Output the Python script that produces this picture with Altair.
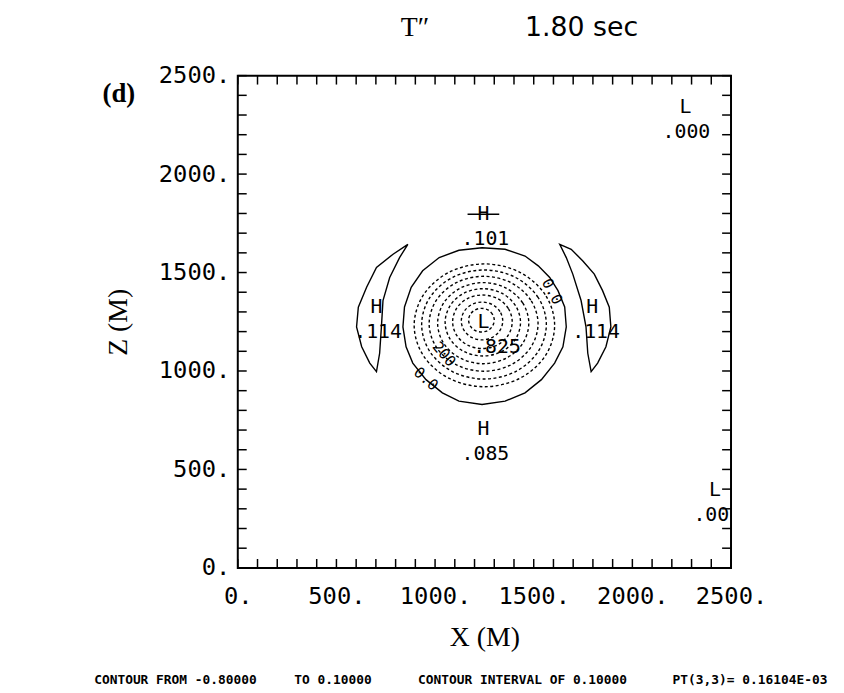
import altair as alt
import pandas as pd

# ---------------- text ----------------
TITLE_VAR = "T\u2033"
TITLE_TIME = "1.80 sec"
PANEL = "(d)"
X_TITLE = "X (M)"
Z_TITLE = "Z (M)"
FOOTER = ["CONTOUR FROM -0.80000", "TO  0.10000",
          "CONTOUR INTERVAL OF  0.10000", "PT(3,3)=  0.16104E-03"]

AXIS_VALUES = [0, 500, 1000, 1500, 2000, 2500]
MINOR_TICKS = [0, 100, 200, 300, 400, 500, 600, 700, 800, 900, 1000, 1100, 1200,
               1300, 1400, 1500, 1600, 1700, 1800, 1900, 2000, 2100, 2200, 2300,
               2400, 2500]

# ---------------- contours (metres) ----------------
# 0.0 contour (solid, around the cold core)
C00_X = [1238, 1121, 1021, 937, 879, 845, 837, 853, 887, 954, 1037, 1121, 1238,
         1355, 1456, 1539, 1606, 1648, 1665, 1657, 1623, 1581, 1523, 1456, 1355]
C00_Y = [1626, 1613, 1576, 1509, 1425, 1325, 1224, 1123, 1040, 956, 889, 847, 830,
         847, 889, 956, 1040, 1123, 1224, 1325, 1408, 1475, 1534, 1584, 1618]
# +0.1 contours (solid crescents)
LC_X = [862, 787, 703, 653, 611, 602, 628, 669, 703, 719, 728, 736, 770, 820]
LC_Y = [1643, 1593, 1526, 1425, 1324, 1224, 1123, 1040, 997, 1090, 1224, 1358, 1475, 1576]
RC_X = [1632, 1690, 1749, 1807, 1849, 1883, 1891, 1866, 1824, 1791, 1774, 1765, 1740, 1698, 1665]
RC_Y = [1643, 1618, 1559, 1492, 1408, 1324, 1224, 1123, 1040, 997, 1090, 1224, 1358, 1492, 1576]

# negative contours (dashed), -0.1 ... -0.8
N1_X = [1606, 1558, 1428, 1250, 1072, 942, 894, 942, 1072, 1250, 1428, 1558]
N1_Y = [1232, 1388, 1502, 1544, 1502, 1388, 1232, 1076, 962, 920, 962, 1076]
N2_X = [1564, 1522, 1406, 1248, 1090, 974, 932, 974, 1090, 1248, 1406, 1522]
N2_Y = [1236, 1374, 1476, 1513, 1476, 1374, 1236, 1098, 996, 959, 996, 1098]
N3_X = [1522, 1485, 1384, 1246, 1108, 1007, 970, 1007, 1108, 1246, 1384, 1485]
N3_Y = [1240, 1360, 1449, 1481, 1449, 1360, 1240, 1120, 1031, 999, 1031, 1120]
N4_X = [1475, 1444, 1360, 1244, 1128, 1044, 1013, 1044, 1128, 1244, 1360, 1444]
N4_Y = [1243, 1346, 1421, 1449, 1421, 1346, 1243, 1140, 1065, 1037, 1065, 1140]
N5_X = [1433, 1407, 1338, 1242, 1146, 1077, 1051, 1077, 1146, 1242, 1338, 1407]
N5_Y = [1247, 1333, 1395, 1418, 1395, 1333, 1247, 1161, 1099, 1076, 1099, 1161]
N6_X = [1391, 1371, 1316, 1240, 1164, 1109, 1089, 1109, 1164, 1240, 1316, 1371]
N6_Y = [1250, 1318, 1368, 1386, 1368, 1318, 1250, 1182, 1132, 1114, 1132, 1182]
N7_X = [1343, 1329, 1291, 1238, 1185, 1147, 1133, 1147, 1185, 1238, 1291, 1329]
N7_Y = [1254, 1302, 1337, 1350, 1337, 1302, 1254, 1206, 1171, 1158, 1171, 1206]
N8_X = [1300, 1291, 1268, 1235, 1202, 1179, 1170, 1179, 1202, 1235, 1268, 1291]
N8_Y = [1258, 1288, 1310, 1318, 1310, 1288, 1258, 1228, 1206, 1198, 1206, 1228]

# extrema labels
PEAK_TEXT = ["L", ".000", "H", ".101", "H", ".114", "H", ".114",
             "L", ".825", "H", ".085", "L", ".00"]
PEAK_X = [2269, 2274, 1245, 1255, 703, 711, 1797, 1816, 1245, 1314, 1245, 1255, 2418, 2400]
PEAK_Y = [2339, 2213, 1796, 1670, 1323, 1199, 1323, 1199, 1249, 1123, 704, 578, 394, 268]
# the crossed "H" marker at the top maximum
CROSS_X = [1245]
CROSS_Y = [1796]

# contour labels
CLAB_TEXT = ["0.0", "0.0", "200"]
CLAB_X = [1594, 954, 1046]
CLAB_Y = [1404, 960, 1086]

# ---------------- build ----------------
W, H = 498, 497
MONO = "DejaVu Sans Mono"
SERIF = "Liberation Serif"


def rows(name, xs_, ys_):
    return [{"c": name, "i": i, "x": a, "y": b} for i, (a, b) in enumerate(zip(xs_, ys_))]


solid_df = pd.DataFrame(rows("c00", C00_X, C00_Y) + rows("lc", LC_X, LC_Y) + rows("rc", RC_X, RC_Y))
dash_df = pd.DataFrame(
    rows("n1", N1_X, N1_Y) + rows("n2", N2_X, N2_Y) + rows("n3", N3_X, N3_Y) + rows("n4", N4_X, N4_Y)
    + rows("n5", N5_X, N5_Y) + rows("n6", N6_X, N6_Y) + rows("n7", N7_X, N7_Y) + rows("n8", N8_X, N8_Y))

xs = alt.Scale(domain=[0, 2500], nice=False, zero=False)
ys = alt.Scale(domain=[0, 2500], nice=False, zero=False)

X_AX = alt.Axis(values=AXIS_VALUES, labelExpr="datum.value + '.'", ticks=False, domain=False,
                grid=False, labelFont=MONO, labelFontSize=24, labelPadding=17, labelFlush=False,
                labelOverlap=False, labelColor="black", title=X_TITLE, titleFont=SERIF,
                titleFontSize=28, titleFontWeight="normal", titleColor="black", titleY=70,
                titleBaseline="middle")
Y_AX = alt.Axis(values=AXIS_VALUES, labelExpr="datum.value + '.'", ticks=False, domain=False,
                grid=False, labelFont=MONO, labelFontSize=24, labelPadding=8, labelFlush=False,
                labelOverlap=False, labelColor="black", title=Z_TITLE, titleFont=SERIF,
                titleFontSize=28, titleFontWeight="normal", titleColor="black", titleX=-120,
                titleBaseline="middle")

X = lambda f: alt.X(f, type="quantitative", scale=xs, axis=X_AX)
Y = lambda f: alt.Y(f, type="quantitative", scale=ys, axis=Y_AX)

solid = alt.Chart(solid_df).mark_line(interpolate="linear-closed", color="black", strokeWidth=1.4).encode(
    x=X("x"), y=Y("y"), detail="c:N", order="i:Q")
dashed = alt.Chart(dash_df).mark_line(interpolate="cardinal-closed", color="black", strokeWidth=1.4,
                                      strokeDash=[3, 2.5]).encode(
    x=X("x"), y=Y("y"), detail="c:N", order="i:Q")

peak_df = pd.DataFrame({"t": PEAK_TEXT, "x": PEAK_X, "y": PEAK_Y})
peaks = alt.Chart(peak_df).mark_text(font=MONO, fontSize=20, color="black", baseline="middle",
                                     align="center").encode(x=X("x"), y=Y("y"), text="t:N")
cross_df = pd.DataFrame({"x": CROSS_X, "y": CROSS_Y})
cross = alt.Chart(cross_df).mark_tick(orient="horizontal", size=32, thickness=1.6,
                                      color="black", opacity=1).encode(x=X("x"), y=Y("y"))

clab_layers = []
for i, ang in enumerate([62, 41, 50]):
    d = pd.DataFrame({"t": [CLAB_TEXT[i]], "x": [CLAB_X[i]], "y": [CLAB_Y[i]]})
    clab_layers.append(alt.Chart(d).mark_text(font=MONO, fontSize=15, color="black", baseline="middle",
                                              align="center", angle=ang).encode(x=X("x"), y=Y("y"), text="t:N"))

tick_df = pd.DataFrame({"t": MINOR_TICKS})
TL = 9
tick_style = dict(color="black", strokeWidth=1.5)
t_bottom = alt.Chart(tick_df).mark_rule(**tick_style).encode(x=X("t"), y=alt.value(H), y2=alt.value(H - TL))
t_top = alt.Chart(tick_df).mark_rule(**tick_style).encode(x=X("t"), y=alt.value(0), y2=alt.value(TL))
t_left = alt.Chart(tick_df).mark_rule(**tick_style).encode(y=Y("t"), x=alt.value(0), x2=alt.value(TL))
t_right = alt.Chart(tick_df).mark_rule(**tick_style).encode(y=Y("t"), x=alt.value(W), x2=alt.value(W - TL))

one = pd.DataFrame({"a": [0]})


def label(text, px, py, font, size, weight="normal", align="center"):
    return alt.Chart(one).mark_text(font=font, fontSize=size, fontWeight=weight, color="black",
                                    align=align, baseline="middle").encode(
        x=alt.value(px), y=alt.value(py), text=alt.value(text))


outer = [
    label(TITLE_VAR, 179, -48, SERIF, 28),
    label(TITLE_TIME, 290, -48, "DejaVu Sans", 27, align="left"),
    label(PANEL, -120, 19, SERIF, 27, weight="bold"),
    label(FOOTER[0], -145, 610, MONO, 13, weight="bold", align="left"),
    label(FOOTER[1], 57, 610, MONO, 13, weight="bold", align="left"),
    label(FOOTER[2], 182, 610, MONO, 13, weight="bold", align="left"),
    label(FOOTER[3], 439, 610, MONO, 13, weight="bold", align="left"),
]

chart = alt.layer(solid, dashed, peaks, cross, *clab_layers, t_bottom, t_top, t_left, t_right,
                  *outer).properties(
    width=W, height=H,
    padding={"left": 232, "top": 65, "right": 106, "bottom": 120},
    autosize=alt.AutoSizeParams(type="none"),
    background="white",
).configure_view(stroke="black", strokeWidth=2)

chart.save("out.html", embed_options={"renderer": "svg", "actions": False})
